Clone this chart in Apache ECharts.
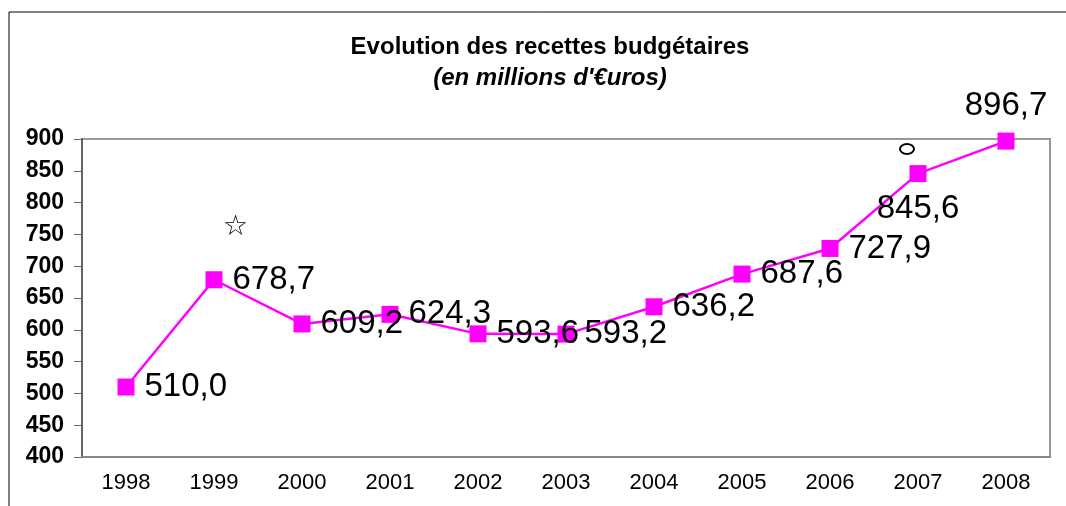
<!DOCTYPE html>
<html>
<head>
    <meta charset="utf-8">
    <title>Evolution des recettes budgétaires</title>
    <script src="https://cdn.jsdelivr.net/npm/echarts@6/dist/echarts.min.js"></script>
    <style>
        html, body { margin: 0; padding: 0; background: #fff; }
        #chart { width: 1066px; height: 506px; }
    </style>
</head>
<body>
    <div id="chart"></div>

    <script type="text/javascript">
        // années
        var years = ['1998', '1999', '2000', '2001', '2002', '2003', '2004', '2005', '2006', '2007', '2008'];
        // recettes en millions d'euros
        var recettes = [510.0, 678.7, 609.2, 624.3, 593.6, 593.2, 636.2, 687.6, 727.9, 845.6, 896.7];
        // position des étiquettes (comme sur l'original)
        var labelPos = ['right', 'right', 'right', 'right', 'right', 'right', 'right', 'right', 'right', 'bottom', 'top'];

        var points = [];
        for (var i = 0; i < recettes.length; i++) {
            points.push({
                value: recettes[i],
                label: { position: labelPos[i] }
            });
        }

        var chart = echarts.init(document.getElementById('chart'));
        chart.setOption({
            animation: false,
            backgroundColor: '#fff',
            textStyle: { fontFamily: 'Liberation Sans, Arial, sans-serif' },
            title: {
                text: 'Evolution des recettes budgétaires',
                subtext: "(en millions d'€uros)",
                left: 545,
                textAlign: 'center',
                top: 30,
                itemGap: 7,
                textStyle: { fontSize: 24, fontWeight: 'bold', color: '#000' },
                subtextStyle: { fontSize: 24, fontWeight: 'bold', fontStyle: 'italic', color: '#000' }
            },
            grid: {
                left: 82, right: 16, top: 139, bottom: 49,
                show: true,
                borderColor: '#999',
                borderWidth: 2
            },
            xAxis: {
                type: 'category',
                data: years,
                axisLine: { lineStyle: { color: '#888', width: 2 } },
                axisTick: { show: false },
                axisLabel: { fontSize: 22, color: '#000', margin: 15 }
            },
            yAxis: {
                type: 'value',
                min: 400, max: 900, interval: 50,
                axisLine: { show: true, lineStyle: { color: '#666', width: 2 } },
                axisTick: { show: true, length: 8, lineStyle: { color: '#666' } },
                splitLine: { show: false },
                axisLabel: { fontSize: 23, fontWeight: 'bold', color: '#000', margin: 18 }
            },
            series: [{
                type: 'line',
                data: points,
                symbol: 'rect',
                symbolSize: 17,
                itemStyle: { color: '#ff00ff' },
                lineStyle: { color: '#ff00ff', width: 2.5 },
                label: {
                    show: true,
                    fontSize: 33,
                    color: '#000',
                    distance: 10,
                    formatter: function (p) {
                        return p.value.toFixed(1).replace('.', ',');
                    }
                },
                z: 3
            }],
            graphic: [
                { type: 'line', shape: { x1: 9, y1: 12, x2: 1066, y2: 12 }, style: { stroke: '#000', lineWidth: 1 } },
                { type: 'line', shape: { x1: 9, y1: 12, x2: 9, y2: 506 }, style: { stroke: '#000', lineWidth: 1 } },
                { type: 'text', left: 223, top: 214, style: { text: '☆', fontSize: 28, fill: '#000', fontFamily: 'DejaVu Sans' } },
                { type: 'ellipse', shape: { cx: 907, cy: 149, rx: 7, ry: 5 }, style: { fill: 'none', stroke: '#000', lineWidth: 2 } }
            ]
        });
    </script>
</body>
</html>
